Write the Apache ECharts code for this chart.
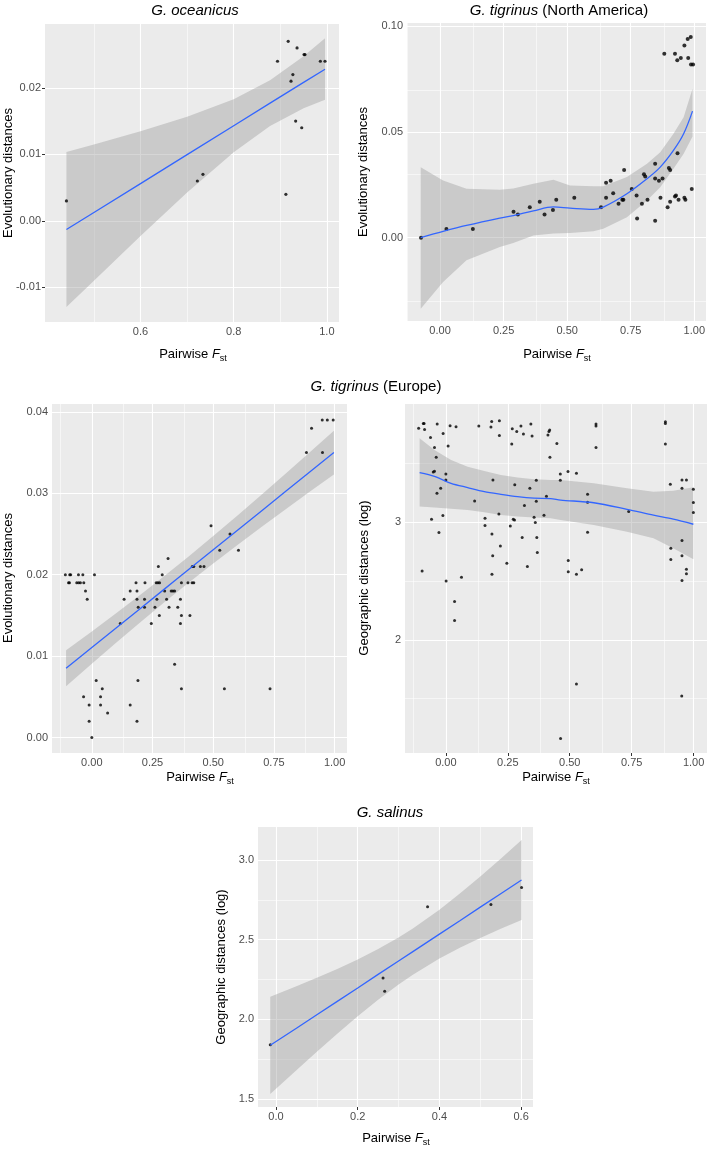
<!DOCTYPE html>
<html><head><meta charset="utf-8">
<script src="https://cdn.jsdelivr.net/npm/echarts@6/dist/echarts.min.js"></script>
<style>html,body{margin:0;padding:0;background:#fff}#c{width:709px;height:1149px}</style>
</head><body><div id="c"></div>
<script>
// ---------- DATA ----------
// G. oceanicus
const ocX = [0.441, 0.722, 0.734, 0.894, 0.917, 0.936, 0.951, 0.953, 0.927, 0.923, 0.933, 0.946, 0.912, 0.986, 0.996];
const ocY = [0.003, 0.006, 0.007, 0.024, 0.027, 0.026, 0.025, 0.025, 0.022, 0.021, 0.015, 0.014, 0.004, 0.024, 0.024];
const ocFitX = [0.441, 0.5, 0.6, 0.7, 0.8, 0.878, 0.95, 0.996];
const ocFitY = [-0.0013, 0.00126, 0.00561, 0.00996, 0.01431, 0.0177, 0.02083, 0.0228];
const ocLo = [-0.01296, -0.00898, -0.00227, 0.00426, 0.01033, 0.01425, 0.01692, 0.01820];
const ocHi = [0.01036, 0.0115, 0.01349, 0.01566, 0.01829, 0.02115, 0.02474, 0.02745];

// G. tigrinus (North America)
const naX = [-0.075, 0.025, 0.129, 0.289, 0.306, 0.353, 0.392, 0.411, 0.444, 0.457, 0.528, 0.633, 0.653, 0.653, 0.671, 0.681, 0.702, 0.717, 0.721, 0.724, 0.754, 0.773, 0.775, 0.794, 0.802, 0.807, 0.816, 0.846, 0.846, 0.846, 0.861, 0.867, 0.875, 0.882, 0.895, 0.900, 0.905, 0.905, 0.924, 0.924, 0.928, 0.933, 0.934, 0.938, 0.947, 0.961, 0.965, 0.961, 0.974, 0.976, 0.986, 0.987, 0.995, 0.990];
const naY = [0.000, 0.0041, 0.0041, 0.0123, 0.011, 0.0144, 0.017, 0.011, 0.0131, 0.018, 0.0189, 0.0144, 0.0189, 0.026, 0.027, 0.021, 0.0161, 0.018, 0.018, 0.032, 0.023, 0.020, 0.0091, 0.0161, 0.030, 0.029, 0.018, 0.035, 0.028, 0.008, 0.027, 0.0189, 0.028, 0.087, 0.0144, 0.033, 0.032, 0.017, 0.087, 0.0195, 0.020, 0.084, 0.040, 0.018, 0.085, 0.0189, 0.018, 0.091, 0.094, 0.085, 0.095, 0.082, 0.082, 0.023];
const naFitX = [-0.076, 0.012, 0.104, 0.235, 0.288, 0.367, 0.446, 0.511, 0.603, 0.642, 0.735, 0.814, 0.866, 0.918, 0.958, 0.993];
const naFitY = [0.0001, 0.0030, 0.0058, 0.0093, 0.0105, 0.0127, 0.0146, 0.0140, 0.0134, 0.0145, 0.0208, 0.0279, 0.0334, 0.0413, 0.0492, 0.0599];
const naLo = [-0.0336, -0.0210, -0.0107, -0.0044, -0.0025, 0.0011, 0.0020, 0.0022, 0.0031, 0.0043, 0.0097, 0.0176, 0.0239, 0.0326, 0.0397, 0.0479];
const naHi = [0.0334, 0.0271, 0.0232, 0.0227, 0.0233, 0.0255, 0.0274, 0.0247, 0.0244, 0.0244, 0.0287, 0.0350, 0.0405, 0.0492, 0.0570, 0.0705];

// G. tigrinus (Europe) - evolutionary distances
const euEX = [0.949, 0.970, 0.994, 0.905, 0.884, 0.950, 0.491, 0.569, 0.527, 0.604, 0.314, 0.274, 0.414, 0.420, 0.447, 0.462,
  -0.109, -0.091, -0.087, -0.055, -0.037, 0.011, 0.290,
  -0.096, -0.092, -0.062, -0.054, -0.047, -0.033, 0.182, 0.219, 0.265, 0.272, 0.279, 0.369, 0.396, 0.413, 0.420,
  -0.026, 0.158, 0.186, 0.300, 0.327, 0.334, 0.341,
  -0.019, 0.133, 0.186, 0.217, 0.268, 0.308, 0.365,
  0.191, 0.217, 0.260, 0.318, 0.354,
  0.278, 0.369, 0.404,
  0.117, 0.245, 0.365,
  0.341, 0.018, 0.190, 0.043, 0.369, 0.546, 0.734, -0.034, 0.036, -0.011, 0.036, 0.158, 0.065, -0.011, 0.186, 0.000];
const euEY = [0.039, 0.039, 0.039, 0.038, 0.035, 0.035, 0.026, 0.025, 0.023, 0.023, 0.022, 0.021, 0.021, 0.021, 0.021, 0.021,
  0.020, 0.020, 0.020, 0.020, 0.020, 0.020, 0.020,
  0.019, 0.019, 0.019, 0.019, 0.019, 0.019, 0.019, 0.019, 0.019, 0.019, 0.019, 0.019, 0.019, 0.019, 0.019,
  0.018, 0.018, 0.018, 0.018, 0.018, 0.018, 0.018,
  0.017, 0.017, 0.017, 0.017, 0.017, 0.017, 0.017,
  0.016, 0.016, 0.016, 0.016, 0.016,
  0.015, 0.015, 0.015,
  0.014, 0.014, 0.014,
  0.009, 0.007, 0.007, 0.006, 0.006, 0.006, 0.006, 0.005, 0.005, 0.004, 0.004, 0.004, 0.003, 0.002, 0.002, 0.000];
const euEFitX = [-0.106, 0, 0.1, 0.2, 0.3, 0.35, 0.4, 0.5, 0.6, 0.7, 0.8, 0.9, 0.997];
const euEFitY = [0.0085, 0.01105, 0.01345, 0.01585, 0.01826, 0.01946, 0.02066, 0.02306, 0.02547, 0.02787, 0.03027, 0.03267, 0.0350];
const euELo = [0.00629, 0.00906, 0.01164, 0.01416, 0.01664, 0.01785, 0.01904, 0.02137, 0.02366, 0.02588, 0.02807, 0.03024, 0.03232];
const euEHi = [0.01071, 0.01304, 0.01526, 0.01754, 0.01988, 0.02107, 0.02228, 0.02475, 0.02728, 0.02986, 0.03247, 0.03510, 0.03768];

// G. tigrinus (Europe) - geographic distances (log)
const euGX = [-0.110,-0.091,-0.088,-0.086,-0.062,-0.046,-0.035,-0.011,-0.039,-0.051,
  -0.046,-0.036,-0.021,-0.058,-0.028,-0.012,-0.096,0.001,0.000,0.000,
  0.009,0.017,0.041,0.035,0.035,0.063,0.116,0.133,0.158,0.158,
  0.182,0.185,0.186,0.189,0.186,0.190,0.216,0.216,0.214,0.220,
  0.246,0.260,0.266,0.268,0.272,0.277,0.278,0.286,0.303,0.308,
  0.313,0.317,0.329,0.339,0.343,0.348,0.356,0.361,0.365,0.365,
  0.367,0.369,0.396,0.406,0.412,0.416,0.419,0.420,0.448,0.462,
  0.462,0.463,0.493,0.494,0.494,0.527,0.527,0.527,0.548,0.572,
  0.572,0.572,0.606,0.606,0.606,0.738,0.886,0.886,0.886,0.906,
  0.908,0.908,0.953,0.971,0.953,0.999,0.999,0.999,0.953,0.953,
  0.971,0.971,0.953,0.952];
const euGY = [3.799,3.841,3.841,3.790,3.720,3.635,3.836,3.756,3.552,3.428,
  3.433,3.246,3.289,3.025,2.912,3.057,2.586,2.501,3.411,3.360,
  3.649,3.822,3.813,2.326,2.164,2.533,3.181,3.819,3.034,2.972,
  3.810,3.858,2.901,2.714,2.558,3.360,3.864,3.737,3.071,2.799,
  2.652,2.969,3.666,3.796,3.025,3.020,3.320,3.771,3.819,2.870,
  3.751,3.142,2.623,3.289,3.836,3.734,3.042,2.997,3.178,3.357,
  2.870,2.742,3.059,3.221,3.742,3.771,3.785,3.552,3.671,3.411,
  3.357,1.161,3.431,2.674,2.578,3.416,2.558,1.623,2.595,3.238,
  3.170,2.915,3.836,3.819,3.635,3.091,3.856,3.841,3.666,3.323,
  2.779,2.683,3.360,3.360,3.289,3.280,3.167,3.082,2.844,2.714,
  2.601,2.561,2.504,1.521];
const euGFitX = [-0.106, -0.046, 0.021, 0.088, 0.155, 0.222, 0.289, 0.356, 0.423, 0.463, 0.597, 0.731, 0.838, 0.918, 0.999];
const euGFitY = [3.422, 3.390, 3.331, 3.295, 3.261, 3.238, 3.218, 3.205, 3.201, 3.189, 3.166, 3.110, 3.060, 3.026, 2.983];
const euGLo = [3.133, 3.125, 3.115, 3.105, 3.085, 3.062, 3.050, 3.040, 3.034, 3.020, 2.977, 2.920, 2.864, 2.779, 2.686];
const euGHi = [3.714, 3.615, 3.530, 3.473, 3.435, 3.402, 3.380, 3.365, 3.360, 3.359, 3.331, 3.289, 3.260, 3.268, 3.297];

// G. salinus
const saX = [-0.014, 0.262, 0.266, 0.371, 0.526, 0.601];
const saY = [1.841, 2.259, 2.176, 2.707, 2.720, 2.828];
const saFitX = [-0.014, 0.05, 0.1, 0.15, 0.2, 0.25, 0.3, 0.335, 0.4, 0.45, 0.5, 0.55, 0.601];
const saFitY = [1.837, 1.944, 2.029, 2.113, 2.197, 2.282, 2.366, 2.425, 2.535, 2.619, 2.704, 2.788, 2.874];
const saLo = [1.531, 1.681, 1.797, 1.910, 2.019, 2.123, 2.219, 2.280, 2.382, 2.449, 2.511, 2.568, 2.623];
const saHi = [2.142, 2.207, 2.261, 2.316, 2.375, 2.441, 2.513, 2.570, 2.688, 2.789, 2.897, 3.008, 3.125];

// tick labels / grid breaks
const ocXTicks = [0.6, 0.8, 1.0], ocXMinor = [0.5, 0.7, 0.9];
const ocYTicks = [-0.01, 0.00, 0.01, 0.02], ocYMinor = [-0.005, 0.005, 0.015, 0.025];
const naXTicks = [0, 0.25, 0.5, 0.75, 1.0], naXMinor = [-0.125, 0.125, 0.375, 0.625, 0.875];
const naYTicks = [0, 0.05, 0.10], naYMinor = [-0.025, 0.025, 0.075];
const euXTicks = [0, 0.25, 0.5, 0.75, 1.0], euXMinor = [-0.125, 0.125, 0.375, 0.625, 0.875];
const euEYTicks = [0, 0.01, 0.02, 0.03, 0.04], euEYMinor = [0.005, 0.015, 0.025, 0.035];
const euGYTicks = [2, 3], euGYMinor = [1.5, 2.5, 3.5];
const saXTicks = [0, 0.2, 0.4, 0.6], saXMinor = [0.1, 0.3, 0.5];
const saYTicks = [1.5, 2.0, 2.5, 3.0], saYMinor = [1.75, 2.25, 2.75];

// ---------- LAYOUT ----------
const FONT = 'Liberation Sans, Arial, sans-serif';
const panels = [
  {grid:{left:45, top:24, width:294, height:298}, xr:[0.395, 1.026], yr:[-0.0152, 0.0296],
   xT:ocXTicks, xM:ocXMinor, yT:ocYTicks, yM:ocYMinor, xd:1, yd:2,
   px:ocX, py:ocY, fx:ocFitX, fy:ocFitY, lo:ocLo, hi:ocHi, smooth:false, ps:3.2},
  {grid:{left:407, top:23, width:299, height:298}, xr:[-0.130, 1.046], yr:[-0.0394, 0.1016],
   xT:naXTicks, xM:naXMinor, yT:naYTicks, yM:naYMinor, xd:2, yd:2,
   px:naX, py:naY, fx:naFitX, fy:naFitY, lo:naLo, hi:naHi, smooth:0.35, ps:4},
  {grid:{left:52, top:404, width:295, height:349}, xr:[-0.164, 1.051], yr:[-0.0019, 0.04097],
   xT:euXTicks, xM:euXMinor, yT:euEYTicks, yM:euEYMinor, xd:2, yd:2,
   px:euEX, py:euEY, fx:euEFitX, fy:euEFitY, lo:euELo, hi:euEHi, smooth:false, ps:3},
  {grid:{left:405, top:404, width:302, height:349}, xr:[-0.165, 1.054], yr:[1.037, 4.006],
   xT:euXTicks, xM:euXMinor, yT:euGYTicks, yM:euGYMinor, xd:2, yd:0,
   px:euGX, py:euGY, fx:euGFitX, fy:euGFitY, lo:euGLo, hi:euGHi, smooth:0.3, ps:3},
  {grid:{left:258, top:827, width:275, height:280}, xr:[-0.044, 0.629], yr:[1.450, 3.207],
   xT:saXTicks, xM:saXMinor, yT:saYTicks, yM:saYMinor, xd:1, yd:1,
   px:saX, py:saY, fx:saFitX, fy:saFitY, lo:saLo, hi:saHi, smooth:false, ps:3}
];

const grids = [], xAxes = [], yAxes = [], series = [];
panels.forEach((p, i) => {
  grids.push(Object.assign({show:true, backgroundColor:'#EBEBEB', borderWidth:0}, p.grid));
  const axisCommon = (vals, dec) => ({
    axisLine:{show:false},
    axisTick:{show:true, customValues:vals, length:3, lineStyle:{color:'#333333', width:1}},
    axisLabel:{customValues:vals, formatter:v => Number(v).toFixed(dec), color:'#4D4D4D',
      fontSize:11, fontFamily:FONT, margin:4, showMinLabel:true, showMaxLabel:true},
    splitLine:{show:false}
  });
  xAxes.push(Object.assign({type:'value', gridIndex:i, min:p.xr[0], max:p.xr[1]}, axisCommon(p.xT, p.xd)));
  yAxes.push(Object.assign({type:'value', gridIndex:i, min:p.yr[0], max:p.yr[1]}, axisCommon(p.yT, p.yd)));
  const major = {color:'#FFFFFF', width:1.1, type:'solid'};
  const minor = {color:'#FFFFFF', width:0.55, type:'solid'};
  const gl = [];
  p.xT.forEach(v => gl.push({xAxis:v, lineStyle:major}));
  p.xM.forEach(v => { if (v > p.xr[0] && v < p.xr[1]) gl.push({xAxis:v, lineStyle:minor}); });
  p.yT.forEach(v => gl.push({yAxis:v, lineStyle:major}));
  p.yM.forEach(v => { if (v > p.yr[0] && v < p.yr[1]) gl.push({yAxis:v, lineStyle:minor}); });
  series.push({type:'line', xAxisIndex:i, yAxisIndex:i, data:[], silent:true, z:1,
    markLine:{z:1, silent:true, symbol:['none','none'], label:{show:false}, animation:false, data:gl}});
  // ribbon
  const fx = p.fx, lo = p.lo, hi = p.hi;
  series.push({type:'custom', xAxisIndex:i, yAxisIndex:i, z:2, silent:true,
    data: fx.map((x, k) => [x, lo[k], hi[k]]),
    renderItem: (params, api) => {
      if (params.dataIndex !== 0) return null;
      const pts = [];
      for (let k = 0; k < fx.length; k++) pts.push(api.coord([fx[k], hi[k]]));
      for (let k = fx.length - 1; k >= 0; k--) pts.push(api.coord([fx[k], lo[k]]));
      return {type:'polygon', z2:0, shape:{points:pts}, style:{fill:'rgba(153,153,153,0.4)', stroke:null}};
    }});
  // points
  series.push({type:'scatter', xAxisIndex:i, yAxisIndex:i, z:3, silent:true,
    data: p.px.map((x, k) => [x, p.py[k]]), symbolSize:p.ps, itemStyle:{color:'#000000'}});
  // fit line
  series.push({type:'line', xAxisIndex:i, yAxisIndex:i, z:4, silent:true,
    data: fx.map((x, k) => [x, p.fy[k]]), symbol:'none', smooth:p.smooth,
    lineStyle:{color:'#3366FF', width:1.3}});
});

function txt(x, y, text, rich, rot) {
  return {type:'text', x:x, y:y, rotation:rot || 0, silent:true,
    style:{text:text, rich:rich, align:'center', verticalAlign:'middle', fontFamily:FONT, fill:'#000'}};
}
const titleRich = {i:{fontStyle:'italic', fontSize:15, fontFamily:FONT, fill:'#000'}, n:{fontSize:15, fontFamily:FONT, fill:'#000'}};
const xRich = {n:{fontSize:13, fontFamily:FONT, fill:'#000', lineHeight:18, verticalAlign:'middle'},
  f:{fontSize:13, fontStyle:'italic', fontFamily:FONT, fill:'#000', lineHeight:18, verticalAlign:'middle'},
  s:{fontSize:9, fontFamily:FONT, fill:'#000', verticalAlign:'bottom', lineHeight:10}};
const yRich = {n:{fontSize:13, fontFamily:FONT, fill:'#000'}};
const xName = '{n|Pairwise }{f|F}{s|st}';

const graphics = [
  txt(195, 11, '{i|G. oceanicus}', titleRich),
  txt(559, 11, '{i|G. tigrinus}{n| (North America)}', titleRich),
  txt(376, 387, '{i|G. tigrinus}{n| (Europe)}', titleRich),
  txt(390, 813, '{i|G. salinus}', titleRich),
  txt(193, 354, xName, xRich),
  txt(557, 354, xName, xRich),
  txt(200, 777, xName, xRich),
  txt(556, 777, xName, xRich),
  txt(396, 1138, xName, xRich),
  txt(8, 173, '{n|Evolutionary distances}', yRich, Math.PI/2),
  txt(363, 172, '{n|Evolutionary distances}', yRich, Math.PI/2),
  txt(8, 578, '{n|Evolutionary distances}', yRich, Math.PI/2),
  txt(364, 578, '{n|Geographic distances (log)}', yRich, Math.PI/2),
  txt(221, 967, '{n|Geographic distances (log)}', yRich, Math.PI/2)
];

const chart = echarts.init(document.getElementById('c'), null, {renderer:'canvas'});
chart.setOption({
  animation:false,
  backgroundColor:'#FFFFFF',
  grid:grids, xAxis:xAxes, yAxis:yAxes, series:series, graphic:graphics
});
</script>
</body></html>
